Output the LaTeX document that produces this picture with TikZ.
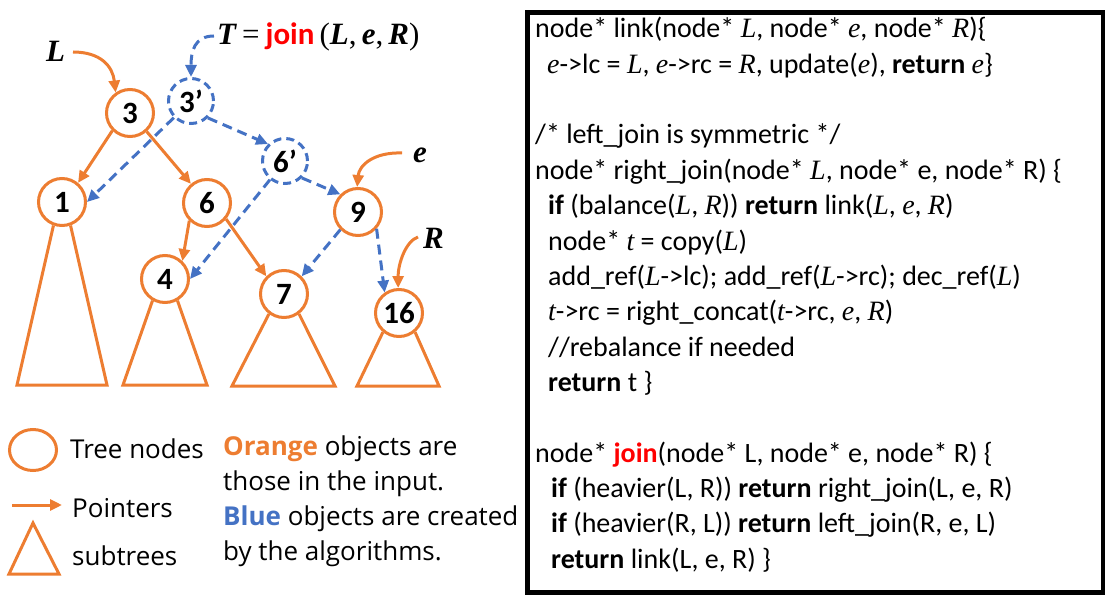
\documentclass[tikz,border=0pt]{standalone}
\usepackage{fontspec}
\setmainfont{Carlito}
\newfontfamily\legendfont{Open Sans}
\newfontfamily\varfont{Liberation Serif}
\newcommand\mv[1]{{\varfont\itshape #1}}
\newcommand\bv[1]{{\varfont\bfseries\itshape #1}}
\usetikzlibrary{arrows.meta,shapes.geometric}
\definecolor{inorange}{HTML}{ED7D31}
\definecolor{newblue}{HTML}{4472C4}
\definecolor{joinred}{HTML}{FF0000}

\begin{document}
\begin{tikzpicture}[x=1pt,y=-1pt,
  tnode/.style={circle,draw=inorange,line width=3pt,fill=white,minimum size=47pt,inner sep=0pt,
    font=\fontsize{31}{31}\selectfont\bfseries},
  cnode/.style={tnode,draw=newblue,dash pattern=on 8pt off 5pt,minimum size=45pt},
  optr/.style={draw=inorange,line width=3pt,-{Triangle[length=12pt,width=11pt]}},
  bptr/.style={draw=newblue,line width=3pt,dash pattern=on 10pt off 6pt,-{Triangle[length=12pt,width=11pt]}},
  subtree/.style={draw=inorange,line width=3pt,line join=miter},
  lbl/.style={font=\fontsize{31}{31}\selectfont,inner sep=0pt,anchor=base west},
  legtext/.style={font=\legendfont\fontsize{26}{26}\selectfont,inner sep=0pt,anchor=base west},
  code/.style={font=\fontsize{28}{30}\selectfont,inner sep=0pt,anchor=base west},
]
\useasboundingbox (0,0) rectangle (1105,596);

% ---------- tree nodes ----------
\node[tnode] (n3)  at (130,113) {3};
\node[cnode] (n3p) at (191,101) {3’};
\node[cnode] (n6p) at (285,161) {6’};
\node[tnode] (n1)  at (62,202)  {1};
\node[tnode] (n6)  at (207,203) {6};
\node[tnode] (n9)  at (358,212) {9};
\node[tnode] (n4)  at (165,279) {4};
\node[tnode] (n7)  at (284,294) {7};
\node[tnode] (n16) at (399,313) {16};

% ---------- subtrees ----------
\draw[subtree] (n1.250)  -- (17,385)  -- (107,385) -- (n1.290);
\draw[subtree] (n4.240)  -- (123,385) -- (207,385) -- (n4.300);
\draw[subtree] (n7.233)  -- (232,386) -- (335,386) -- (n7.307);
\draw[subtree] (n16.230) -- (357,386) -- (439,386) -- (n16.310);

% ---------- input pointers ----------
\draw[optr] (n3.225)  -- (n1.50);
\draw[optr] (n3.-48)  -- (n6.130);
\draw[optr] (n6.225)  -- (n4.46);
\draw[optr] (n6.-40)  -- (n7.135);

% ---------- created pointers ----------
\draw[bptr] (n3p) -- (n1.east);
\draw[bptr] (n3p.-45) -- (n6p.135);
\draw[bptr] (n6p) -- (n4.east);
\draw[bptr] (n6p.-45) -- (n9.135);
\draw[bptr] (n9.225) -- (n7.45);
\draw[bptr] (n9.-42) -- (n16.125);

% ---------- labels and their pointers ----------
\node[lbl] (lL) at (46,62)  {\bv{L}};
\node[lbl] (le) at (413,163) {\bv{e}};
\node[lbl] (lR) at (423,248) {\bv{R}};
\node[lbl] (lT) at (217,45) {\bv{T}\hspace{6pt}{\varfont =}\hspace{6pt}\textcolor{joinred}{\textbf{join}}\,{\varfont(}\bv{L}{\varfont,}\,\bv{e}{\varfont,}\,\bv{R}{\varfont)}};

\coordinate (srcL) at (73,52);
\coordinate (srcT) at (214,36);
\coordinate (srce) at (402,153);
\coordinate (srcR) at (418,237);
\draw[optr] (srcL) .. controls +(28,0) and +(-3,-26) .. (n3.125);
\draw[bptr] (srcT) .. controls +(-20,0) and +(0,-25) .. (n3p.north);
\draw[optr] (srce) .. controls +(-28,-1) and +(2,-22) .. (n9.92);
\draw[optr] (srcR) .. controls +(-12,4) and +(0,-25) .. (n16.92);

% ---------- legend ----------
\node[draw=inorange,line width=3pt,ellipse,minimum width=47pt,minimum height=41pt,inner sep=0pt] (legnode) at (33,450) {};
\node[legtext] (legnodetxt) at (70,458) {Tree nodes};
\coordinate (legA) at (12,505);
\coordinate (legB) at (62,505);
\draw[optr] (legA) -- (legB);
\node[legtext] (legptrtxt) at (72,517) {Pointers};
\draw[subtree] (33,523) -- (59,574) -- (9,574) -- cycle;
\node[legtext] (legsubtxt) at (72,565) {subtrees};

\node[legtext] (note1) at (223,455) {\textcolor{inorange}{\bfseries Orange} objects are};
\node[legtext] (note2) at (223,490) {those in the input.};
\node[legtext] (note3) at (223,525) {\textcolor{newblue}{\bfseries Blue} objects are created};
\node[legtext] (note4) at (223,560) {by the algorithms.};

% ---------- code panel ----------
\node[draw,line width=5pt,minimum width=576pt,minimum height=580pt,anchor=north west,inner sep=0pt] (codebox) at (525,10) {};

\node[code] (c0)  at (535,38.0)  {node* link(node* \mv{L}, node* \mv{e}, node* \mv{R})\{};
\node[code] (c1)  at (547,73.3)  {\mv{e}->lc = \mv{L}, \mv{e}->rc = \mv{R}, update(\mv{e}), \textbf{return} \mv{e}\}};
\node[code] (c3)  at (535,144.0) {/* left\_join is symmetric */};
\node[code] (c4)  at (535,179.3) {node* right\_join(node* \mv{L}, node* e, node* R) \{};
\node[code] (c5)  at (548,214.7) {\textbf{if} (balance(\mv{L}, \mv{R})) \textbf{return} link(\mv{L}, \mv{e}, \mv{R})};
\node[code] (c6)  at (548,250.0) {node* \mv{t} = copy(\mv{L})};
\node[code] (c7)  at (548,285.3) {add\_ref(\mv{L}->lc); add\_ref(\mv{L}->rc); dec\_ref(\mv{L})};
\node[code] (c8)  at (548,320.7) {\mv{t}->rc = right\_concat(\mv{t}->rc, \mv{e}, \mv{R})};
\node[code] (c9)  at (548,356.0) {//rebalance if needed};
\node[code] (c10) at (548,391.3) {\textbf{return} t \}};
\node[code] (c12) at (535,462.0) {node* \textcolor{joinred}{\textbf{join}}(node* L, node* e, node* R) \{};
\node[code] (c13) at (551,497.3) {\textbf{if} (heavier(L, R)) \textbf{return} right\_join(L, e, R)};
\node[code] (c14) at (551,532.7) {\textbf{if} (heavier(R, L)) \textbf{return} left\_join(R, e, L)};
\node[code] (c15) at (551,568.0) {\textbf{return} link(L, e, R) \}};
\end{tikzpicture}
\end{document}
